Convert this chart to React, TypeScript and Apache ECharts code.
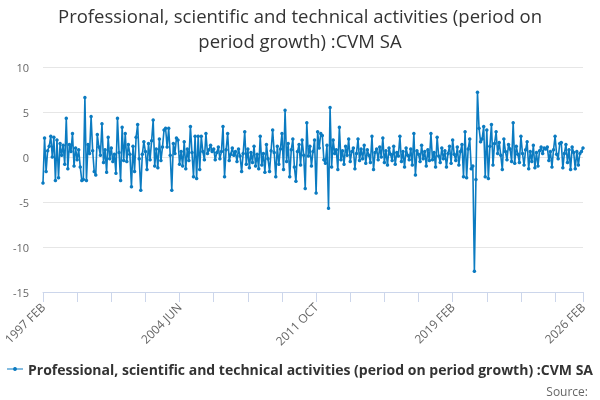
import React, { useEffect, useRef } from "react";
import * as echarts from "echarts";

const TITLE_LINE1 = "Professional, scientific and technical activities (period on";
const TITLE_LINE2 = "period growth) :CVM SA";
const SERIES_NAME = "Professional, scientific and technical activities (period on period growth) :CVM SA";
const MONTHS = ["JAN", "FEB", "MAR", "APR", "MAY", "JUN", "JUL", "AUG", "SEP", "OCT", "NOV", "DEC"];
const START_YEAR = 1997;
const START_MONTH = 1; // FEB (0-based)

const values: number[] = [
  -2.9, 2.1, -1.6, 0.7, 1.2, 2.3, 0.0, 2.2, -2.6, 1.9,
  -2.3, 1.5, 0.2, 1.3, -0.8, 4.3, -1.3, 1.4, 0.6, 2.6,
  -1.0, 1.0, -0.3, 0.8, -1.1, -2.6, -2.5, 6.6, -2.6, 1.4,
  0.4, 4.5, 0.7, -1.6, -2.0, 2.5, 1.1, 0.2, 3.7, -0.6,
  0.8, -1.7, 2.2, -0.2, 1.0, -0.5, 0.3, -1.8, 4.3, 0.5,
  -2.6, 3.3, -0.4, 2.6, -0.5, 1.4, 0.3, -3.3, 1.2, -1.6,
  2.2, 3.6, -0.2, -3.7, 0.3, 1.7, 0.6, -1.4, 1.5, -0.3,
  1.8, 4.1, -1.0, 0.9, -1.2, 2.0, -0.4, 1.1, 3.0, 3.2,
  1.1, 3.2, 0.2, -3.7, 1.5, 0.4, 2.1, 1.9, -0.8, 0.6,
  -1.0, 1.7, -1.3, 0.9, -0.4, 3.4, 0.5, -2.2, 2.3, -2.4,
  2.3, -1.4, 2.3, 0.6, -0.3, 2.6, 0.4, 0.8, 1.3, 0.6,
  0.9, -0.3, 0.5, 1.1, -0.2, 0.6, 3.4, -2.2, 0.8, 2.6,
  -0.4, 0.3, 1.0, 0.2, 0.6, -0.5, 0.9, 0.1, -1.6, 0.4,
  2.8, -0.8, 0.9, -1.2, 0.5, -0.6, 1.2, -1.0, 0.3, -1.3,
  2.3, -0.9, 0.4, -1.7, 1.4, -0.2, -1.6, 0.7, 3.0, 0.5,
  -2.2, 1.2, -0.8, 0.9, 2.6, -1.4, 5.2, -0.5, 1.5, -2.2,
  0.8, 2.0, -1.1, -2.7, 0.6, 1.4, -0.9, 1.9, 0.2, -3.5,
  3.8, 0.1, 1.2, -1.0, 0.6, 1.9, -4.0, 2.8, 1.0, 2.6,
  2.4, -0.3, -0.7, 1.3, -5.7, 5.5, -1.1, 1.9, 0.4, 0.8,
  -1.4, 3.3, -0.3, 0.7, -0.8, 1.2, 0.2, 2.0, -0.5, 0.6,
  1.0, -1.3, 0.4, 2.0, -0.4, 0.9, -0.2, 1.3, -0.7, 0.8,
  0.2, -0.6, 2.3, -1.4, 0.5, 0.9, -0.3, 1.1, 0.0, 2.1,
  -0.6, 0.7, -0.9, 1.0, 0.3, -0.4, 1.2, -0.8, 0.5, 0.1,
  2.3, -0.5, 0.6, -1.1, 1.0, 0.2, -0.3, 0.9, -0.9, 2.6,
  -2.0, 0.7, 0.3, -0.5, 1.3, -0.2, 0.6, -1.0, 0.8, -0.4,
  2.6, -0.3, 0.5, -1.1, 2.2, 0.1, -0.6, 1.0, -0.2, 0.7,
  -1.1, 0.4, 1.2, -0.7, 1.9, 0.3, -0.4, 1.1, -0.9, 0.6,
  1.4, -2.2, 2.8, -2.3, 0.9, 2.0, -1.3, -1.0, -12.7, -2.5,
  7.2, 3.2, 1.7, 2.0, 3.4, -2.2, 3.0, -2.4, 1.2, 3.6,
  -0.9, 1.5, 2.8, 0.4, 1.6, 0.2, -1.4, 2.0, 0.6, -0.3,
  1.4, 0.9, -0.5, 3.8, -0.7, 1.2, 0.3, -0.6, 2.3, 0.4,
  -0.9, 0.8, 1.7, -1.3, 0.6, -0.5, 1.3, -1.2, 0.5, -1.0,
  0.7, 1.1, 0.4, 1.0, 0.9, 1.1, -0.4, 0.6, -1.1, 0.8,
  2.3, 0.3, -0.2, 1.5, 1.6, -1.2, 0.4, 1.4, -0.6, 0.8,
  -1.4, 1.1, 0.5, -1.3, 0.6, -0.9, 0.4, 0.6, 1.0,
];

const categories: string[] = values.map((_, i) => {
  const m = START_MONTH + i;
  return `${START_YEAR + Math.floor(m / 12)} ${MONTHS[m % 12]}`;
});

const Y_MIN = -15;
const Y_MAX = 10;
const Y_STEP = 5;
const TICK_STEP = 22;
const LABEL_STEP = 88;

export default function App() {
  const ref = useRef<HTMLDivElement>(null);
  useEffect(() => {
    if (!ref.current) return;
    const chart = echarts.init(ref.current, undefined, { renderer: "svg" });
    const font = "'Open Sans', 'DejaVu Sans', sans-serif";
    const titleStyle = { fontSize: 18.5, fontWeight: "normal", color: "#333333", lineHeight: 20, fontFamily: font };
    chart.setOption({
      animation: false,
      textStyle: { fontFamily: font },
      title: [
        { text: TITLE_LINE1, left: "center", top: 5, padding: 0, textStyle: titleStyle },
        { text: TITLE_LINE2, left: "center", top: 30, padding: 0, textStyle: titleStyle },
      ],
      grid: { left: 43, right: 17, top: 67, bottom: 108, containLabel: false },
      xAxis: {
        type: "category",
        data: categories,
        boundaryGap: false,
        axisLine: { show: true, onZero: false, lineStyle: { color: "#ccd6eb" } },
        axisTick: {
          show: true,
          interval: (idx: number) => idx % TICK_STEP === 0 || idx === categories.length - 1,
          length: 10,
          lineStyle: { color: "#ccd6eb", width: 1 },
        },
        axisLabel: {
          interval: (idx: number) => idx % LABEL_STEP === 0 || idx === categories.length - 1,
          rotate: 45,
          color: "#666666",
          fontSize: 12,
          fontFamily: font,
          margin: 13,
        },
        splitLine: { show: false },
      },
      yAxis: {
        type: "value",
        min: Y_MIN,
        max: Y_MAX,
        interval: Y_STEP,
        axisLine: { show: false },
        axisTick: { show: false },
        axisLabel: { color: "#666666", fontSize: 11, fontFamily: font, margin: 14 },
        splitLine: { lineStyle: { color: "#e6e6e6" } },
      },
      legend: {
        bottom: 19,
        left: "center",
        itemWidth: 16,
        itemHeight: 6,
        itemGap: 0,
        icon: "path://M0,2.5 L16,2.5 L16,3.5 L0,3.5 Z M8,1 A2,2 0 1 1 7.99,1 Z",
        textStyle: { fontSize: 14, fontWeight: "bold", color: "#333333", fontFamily: font },
        data: [SERIES_NAME],
      },
      graphic: [
        {
          type: "text",
          right: 12,
          bottom: 3,
          style: { text: "Source:", fill: "#666666", fontSize: 12, fontFamily: font },
        },
      ],
      series: [
        {
          name: SERIES_NAME,
          type: "line",
          data: values,
          color: "#0b7bc1",
          lineStyle: { width: 1.6, color: "#0b7bc1" },
          symbol: "circle",
          symbolSize: 3.5,
          showSymbol: true,
          showAllSymbol: true,
          itemStyle: { color: "#0b7bc1" },
        },
      ],
    });
    return () => chart.dispose();
  }, []);
  return <div ref={ref} style={{ position: "fixed", left: 0, top: 0, width: 600, height: 400 }} />;
}
